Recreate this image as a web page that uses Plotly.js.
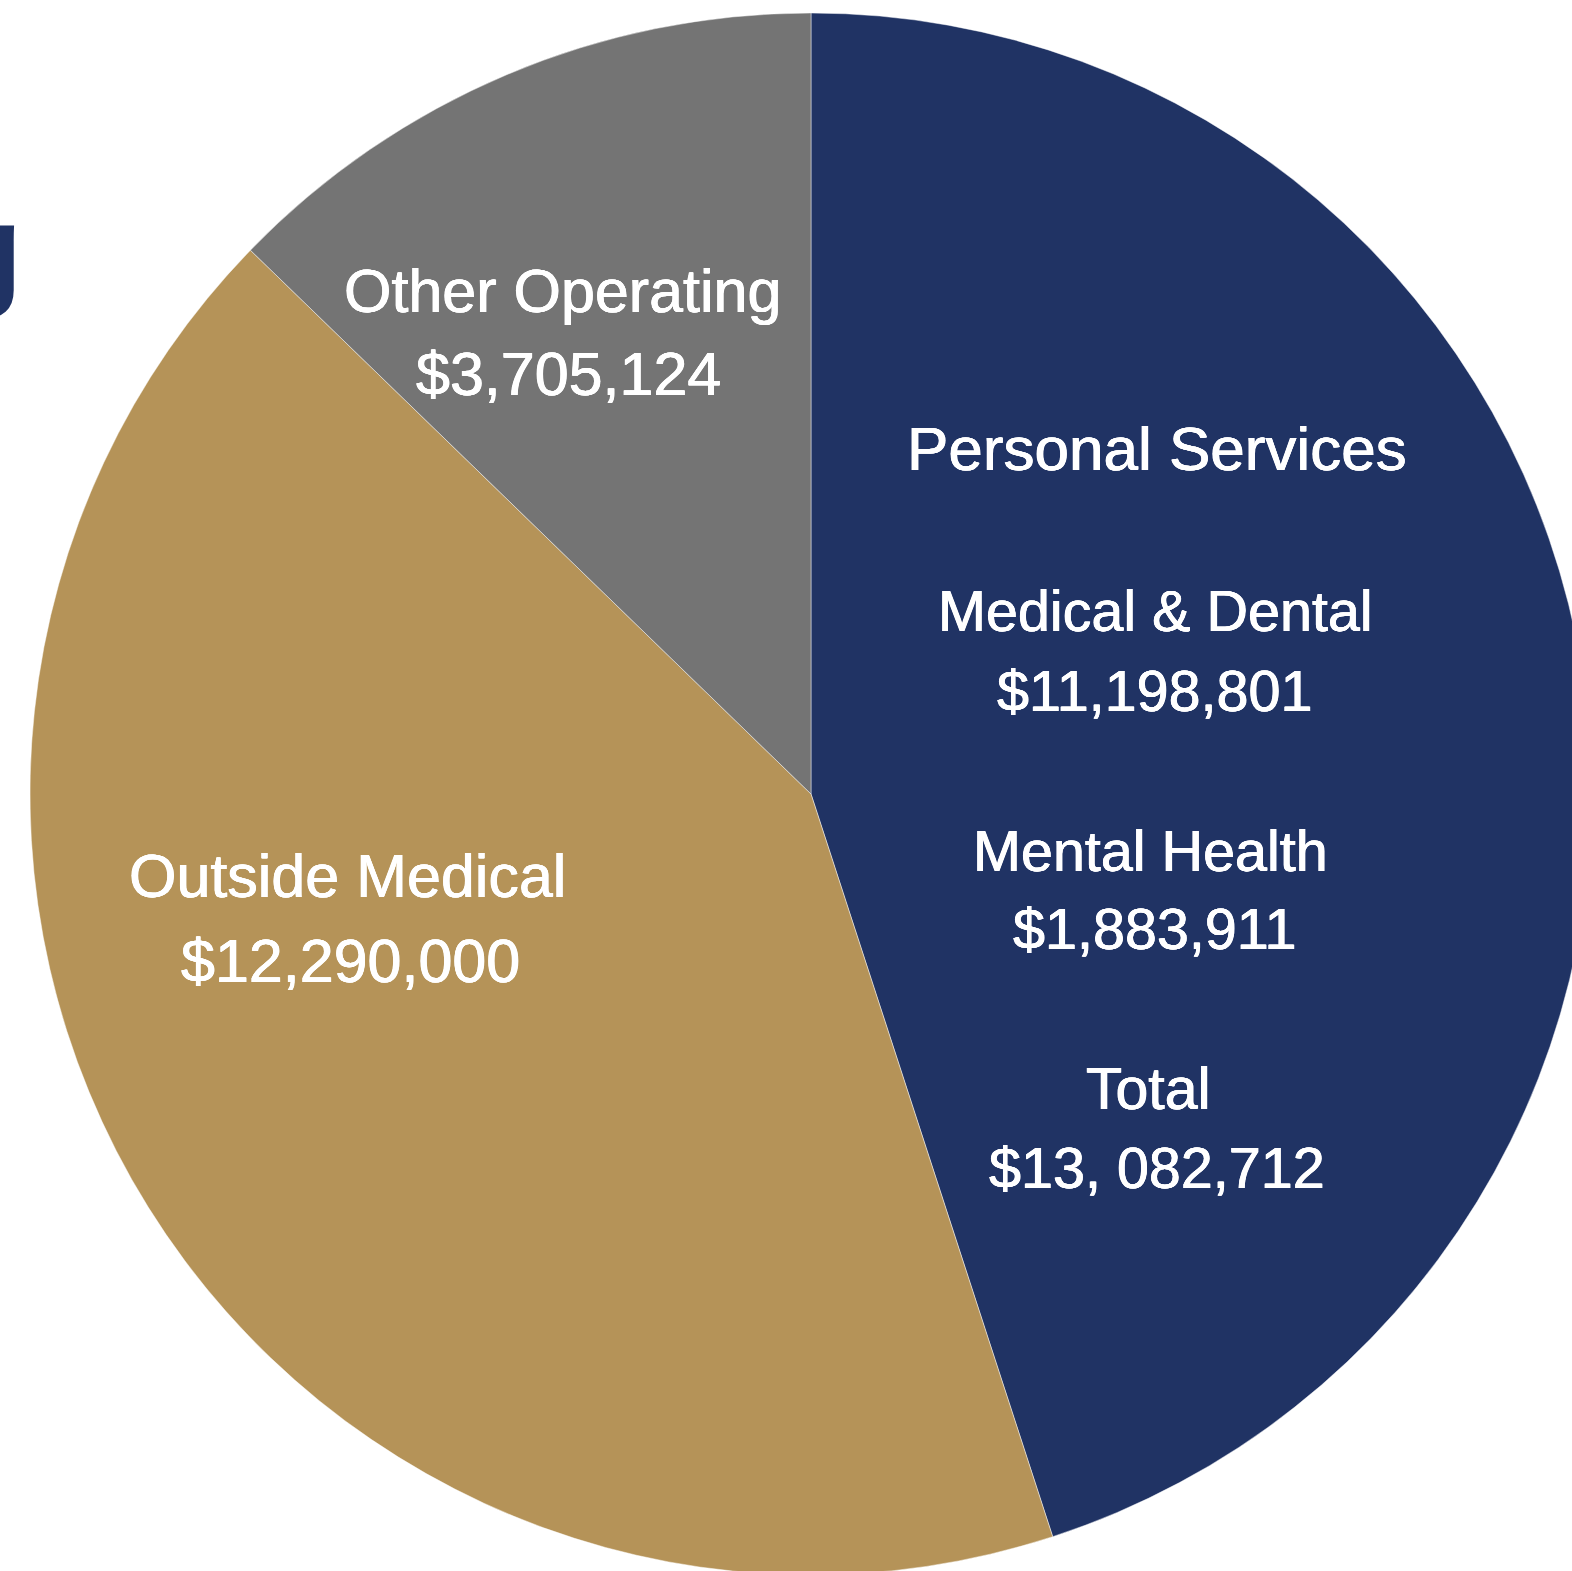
<!DOCTYPE html>
<html>
<head>
<meta charset="utf-8">
<script src="https://cdn.plot.ly/plotly-3.0.1.min.js"></script>
<style>
html, body { margin: 0; padding: 0; overflow: hidden; background: #ffffff; width: 1572px; height: 1571px; }
#chart { position: absolute; left: 0; top: 0; width: 1622px; height: 1588px; }
</style>
</head>
<body>
<div id="chart"></div>
<script>
// ---- data ----
const categories = ["Personal Services", "Outside Medical", "Other Operating"];
const values = [13082712, 12290000, 3705124];
const sliceColors = ["#203364", "#B59358", "#747474"];
const personalSubLabels = ["Medical & Dental", "Mental Health", "Total"];
const personalSubValues = ["$11,198,801", "$1,883,911", "$13, 082,712"];
const valueTexts = ["$13, 082,712", "$12,290,000", "$3,705,124"];
const titleTail = "g";

// ---- layout geometry (pixels) ----
const W = 1622, H = 1588;
const M = { l: 30, r: 30, t: 13, b: 13 };
const PW = W - M.l - M.r, PH = H - M.t - M.b;
const px = x => (x - M.l) / PW;
const py = y => 1 - (y - M.t) / PH;

const fontFam = "Liberation Sans, Arial, sans-serif";
const heavy = "0.45px 0 0 #ffffff, -0.45px 0 0 #ffffff, 0 0.3px 0 #ffffff";
function ann(text, x, y, size, color, extra) {
  return Object.assign({
    text: text, x: px(x), y: py(y), xref: "paper", yref: "paper",
    xanchor: "center", yanchor: "middle", showarrow: false,
    font: { family: fontFam, size: size, color: color, shadow: color === "#ffffff" ? heavy : "none" }
  }, extra || {});
}

const annotations = [
  ann(categories[2], 562, 291, 61, "#ffffff"),
  ann(valueTexts[2], 568, 374, 61, "#ffffff"),
  ann(categories[0], 1157, 448, 62, "#ffffff"),
  ann(personalSubLabels[0], 1155, 611, 57.5, "#ffffff"),
  ann(personalSubValues[0], 1155, 691, 57.5, "#ffffff"),
  ann(personalSubLabels[1], 1150, 851, 57.5, "#ffffff"),
  ann(personalSubValues[1], 1155, 929, 57.5, "#ffffff"),
  ann(personalSubLabels[2], 1148, 1089, 59, "#ffffff"),
  ann(personalSubValues[2], 1157, 1168, 57.5, "#ffffff"),
  ann(categories[1], 347, 876, 61, "#ffffff"),
  ann(valueTexts[1], 350, 961, 61, "#ffffff"),
  ann("<b>" + titleTail + "</b>", 25, 248, 127, "#203364", { xanchor: "right" })
];

const trace = {
  type: "pie",
  labels: categories,
  values: values,
  sort: false,
  direction: "clockwise",
  rotation: 0,
  marker: { colors: sliceColors, line: { width: 1, color: "rgba(255,255,255,0.45)" } },
  textinfo: "none",
  hoverinfo: "none",
  showlegend: false,
  domain: { x: [0, 1], y: [0, 1] }
};

const layout = {
  width: W, height: H,
  margin: M,
  paper_bgcolor: "#ffffff",
  plot_bgcolor: "#ffffff",
  showlegend: false,
  annotations: annotations
};

Plotly.newPlot("chart", [trace], layout, { staticPlot: true, displayModeBar: false });
</script>
</body>
</html>
